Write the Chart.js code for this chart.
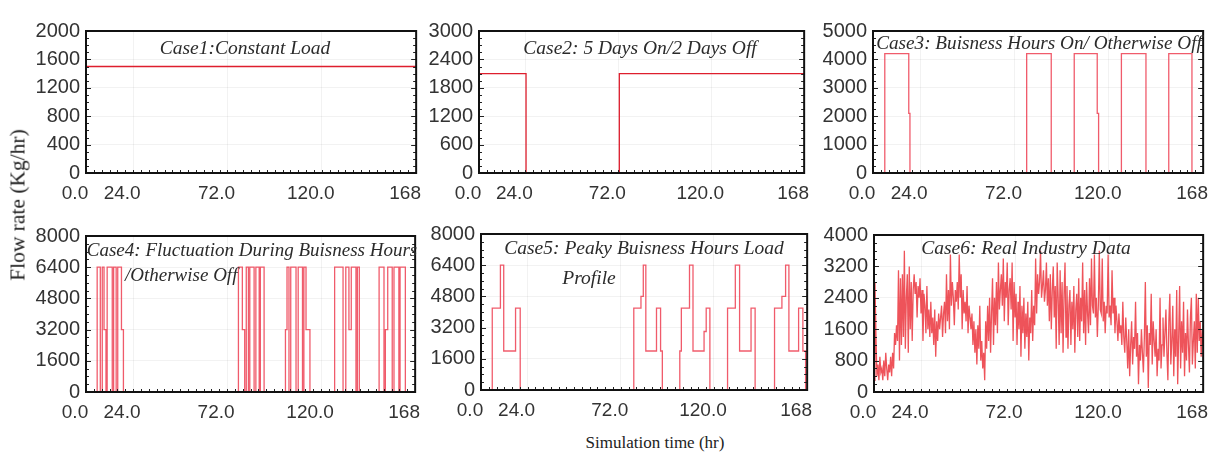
<!DOCTYPE html>
<html>
<head>
<meta charset="utf-8">
<script src="https://cdn.jsdelivr.net/npm/chart.js@4.4.0/dist/chart.umd.min.js"></script>
<style>
html, body { margin: 0; padding: 0; background: #fff; width: 1212px; height: 454px; overflow: hidden; position: relative; }
.panel { position: absolute; }
.label { position: absolute; font-family: "Liberation Serif", "Times New Roman", serif; color: #222; white-space: nowrap; }
#ylab { left: 18px; top: 205px; font-size: 21.5px; transform: translate(-50%, -50%) rotate(-90deg); }
#xlab { left: 655px; top: 443px; font-size: 17px; transform: translate(-50%, -50%); }
</style>
</head>
<body>
<div class="panel" id="p1"><canvas id="c1"></canvas></div>
<div class="panel" id="p2"><canvas id="c2"></canvas></div>
<div class="panel" id="p3"><canvas id="c3"></canvas></div>
<div class="panel" id="p4"><canvas id="c4"></canvas></div>
<div class="panel" id="p5"><canvas id="c5"></canvas></div>
<div class="panel" id="p6"><canvas id="c6"></canvas></div>
<div class="label" id="ylab">Flow rate (Kg/hr)</div>
<div class="label" id="xlab">Simulation time (hr)</div>
<script>
// x axis (hours)
const xTicks = [0, 24, 72, 120, 168];
const xTickLabels = ['0.0', '24.0', '72.0', '120.0', '168'];

// case 1: constant load
const c1Time = [0, 0, 168];
const c1Flow = [0, 1500, 1500];

// case 2: 5 days on / 2 days off
const c2Time = [0, 0, 24.3, 72.5, 168];
const c2Flow = [0, 2100, 0, 2100, 2100];

// case 3: business hours on
const c3Time = [0, 6, 18.2, 18.8, 78.2, 90.7, 102.4, 114.1, 114.8, 126.4, 138.9, 150.5, 162.3, 168];
const c3Flow = [0, 4200, 2100, 0, 4200, 0, 4200, 2100, 0, 4200, 0, 4200, 0, 0];

// case 4: fluctuation during business hours
const c4Time = [0,
  5.7, 7.3, 8.3, 9.2, 10.2, 10.8, 13.4, 14.1, 15.4, 16.2, 18.1, 19.1,
  77.8, 79.8, 81.0, 81.8, 82.9, 83.6, 85.8, 86.7, 88.4, 89.0, 90.9,
  101.8, 102.6, 103.6, 104.5, 107.2, 108.3, 110.5, 111.2, 112.3, 114.3,
  126.9, 131.2, 132.6, 134.2, 135.4, 137.8, 138.5, 139.5,
  149.6, 152.1, 152.8, 154.0, 156.3, 157.2, 159.7, 160.3, 163.0,
  168];
const c4Flow = [0,
  6400, 0, 6400, 3200, 0, 6400, 0, 6400, 0, 6400, 3200, 0,
  6400, 3200, 0, 6400, 0, 6400, 0, 6400, 0, 6400, 0,
  3200, 6400, 0, 6400, 0, 6400, 0, 6400, 3200, 0,
  6400, 0, 6400, 3200, 6400, 0, 6400, 0,
  6400, 0, 3200, 6400, 0, 6400, 0, 6400, 0,
  0];

// case 5: peaky business hours
const c5Time = [0,
  5.8, 10.0, 11.7, 17.8, 20.2,
  78.7, 82.4, 83.6, 84.9, 90.4, 92.5, 93.4,
  102.4, 103.2, 107.4, 109.2, 114.9, 116.0, 117.9,
  127.0, 131.0, 133.2, 139.1, 141.2,
  151.2, 155.0, 156.9, 158.6, 163.6, 165.8, 167.2,
  168];
const c5Flow = [0,
  4200, 6400, 2000, 4200, 0,
  4200, 4800, 6400, 2000, 4200, 2000, 0,
  2000, 4200, 6400, 2000, 3000, 4200, 0,
  4200, 6400, 2000, 4200, 0,
  4200, 4800, 6400, 2000, 4200, 2000, 0,
  0];

// case 6: real industry data, one reading every half hour
const c6Step = 0.5;
const c6Flow = [
  300, 2800, 1400, 400, 700, 300, 900, 500, 600, 300,
  800, 400, 1000, 600, 300, 700, 500, 900, 400, 1000,
  600, 1500, 1200, 1700, 1300, 3100, 800, 2900, 1200, 3000,
  1400, 3600, 1100, 2400, 3000, 1000, 3200, 1600, 2800, 1300,
  2600, 3000, 2500, 2800, 1900, 2700, 2400, 2900, 2000, 2600,
  1300, 2500, 2200, 1500, 2700, 1600, 2100, 1400, 2300, 1500,
  1900, 1200, 2100, 900, 1800, 1300, 2000, 1600, 1900, 2200,
  1400, 2000, 2300, 1500, 3000, 1800, 2600, 1600, 3500, 2200,
  2800, 2400, 1700, 2600, 2300, 2800, 2100, 3500, 2400, 3000,
  1600, 2600, 2000, 2300, 1800, 2700, 1500, 2200, 1900, 1600,
  2000, 1200, 1800, 1000, 1600, 700, 1700, 1100, 2200, 800,
  1300, 600, 1000, 300, 1800, 1100, 2200, 1300, 2400, 1000,
  2000, 2900, 1200, 2400, 1700, 2800, 1500, 3300, 2100, 2600,
  3000, 2200, 3400, 1800, 2800, 2400, 3300, 1700, 2600, 2900,
  2100, 3300, 1300, 2800, 1900, 2500, 1200, 2300, 1600, 2700,
  900, 2200, 1500, 2400, 1100, 2000, 1400, 2300, 800, 1900,
  1500, 2600, 1300, 2200, 1700, 3400, 2000, 3000, 2500, 2800,
  3600, 2400, 2700, 3100, 2300, 2600, 3300, 2200, 2900, 1800,
  3000, 1600, 2600, 3200, 1900, 2700, 1100, 3300, 2400, 1200,
  3100, 1500, 2800, 1000, 2500, 3300, 1400, 2700, 1100, 2200,
  2600, 1200, 2300, 1600, 2700, 1000, 2100, 2500, 1400, 2900,
  1300, 2400, 1800, 3300, 1500, 2600, 1200, 2800, 2000, 1500,
  2900, 1700, 3400, 2200, 2000, 3500, 1900, 2400, 1400, 2200,
  3600, 2100, 2000, 3400, 1800, 2300, 1500, 2200, 2000, 3500,
  1900, 2200, 1700, 3100, 2000, 2400, 1500, 2200, 1800, 1300,
  2000, 1500, 1700, 1200, 2300, 1400, 1000, 1900, 1300, 600,
  1600, 400, 1200, 1800, 700, 1400, 1100, 2300, 900, 1500,
  200, 1200, 800, 1600, 1000, 500, 1400, 2800, 900, 1700,
  100, 1500, 1200, 2500, 700, 1800, 1300, 900, 1600, 400,
  1100, 800, 2400, 600, 1200, 1900, 900, 1500, 2100, 1000,
  300, 1800, 2500, 700, 1300, 2200, 400, 1600, 900, 2600,
  200, 1400, 2700, 600, 1800, 1000, 2300, 400, 1500, 800,
  2100, 1200, 500, 1900, 2400, 700, 1300, 1800, 600, 2500,
  1000, 2400, 1300, 1800, 900, 1600, 1200
];

// frame, inner ticks and in-plot case title
const panelDecor = {
  id: 'panelDecor',
  afterDatasetsDraw(chart, args, opts) {
    const { ctx, chartArea: a, scales: { x, y } } = chart;
    ctx.save();
    ctx.strokeStyle = '#222';
    ctx.lineWidth = 1;
    ctx.beginPath();
    const minor = opts.yStep / 4;
    for (let i = 0; i * minor <= y.max + 1e-6; i++) {
      const py = Math.round(y.getPixelForValue(i * minor)) + 0.5;
      const len = i % 4 === 0 ? 5 : 3;
      ctx.moveTo(a.left, py); ctx.lineTo(a.left + len, py);
      ctx.moveTo(a.right, py); ctx.lineTo(a.right - len, py);
    }
    for (let h = 4; h < 168; h += 4) {
      const px = Math.round(x.getPixelForValue(h)) + 0.5;
      ctx.moveTo(px, a.bottom); ctx.lineTo(px, a.bottom - 3);
    }
    ctx.stroke();
    ctx.lineWidth = 2;
    ctx.strokeStyle = '#111';
    ctx.strokeRect(a.left, a.top, a.right - a.left, a.bottom - a.top);
    ctx.fillStyle = '#2b2b2b';
    ctx.textBaseline = 'middle';
    opts.lines.forEach(([text, dx, dy, align, size]) => {
      ctx.font = 'italic ' + (size || 19.5) + 'px "Liberation Serif", "Times New Roman", serif';
      ctx.textAlign = align || 'center';
      ctx.fillText(text, a.left + dx, a.top + dy);
    });
    ctx.restore();
  }
};

function makeChart(n, box, times, flows, yMax, yStep, lines, color, stepped) {
  const div = document.getElementById('p' + n);
  div.style.left = (box.L - 62) + 'px';
  div.style.top = (box.T - 12) + 'px';
  div.style.width = (box.R - box.L + 82) + 'px';
  div.style.height = (box.B - box.T + 44) + 'px';
  const fam = '"Liberation Sans", Arial, sans-serif';
  return new Chart(document.getElementById('c' + n), {
    type: 'line',
    data: {
      datasets: [{
        data: flows.map((v, i) => ({ x: times[i], y: v })),
        borderColor: color,
        borderWidth: 1.3,
        pointRadius: 0,
        stepped: stepped,
        tension: 0
      }]
    },
    options: {
      responsive: true,
      maintainAspectRatio: false,
      animation: false,
      layout: { padding: { top: 12, right: 20, left: 0, bottom: 0 } },
      plugins: {
        legend: { display: false },
        tooltip: { enabled: false },
        panelDecor: { yStep: yStep, lines: lines }
      },
      scales: {
        x: {
          type: 'linear', min: 0, max: 168,
          afterBuildTicks: s => { s.ticks = xTicks.map(v => ({ value: v })); },
          afterFit: s => { s.height = 32; },
          grid: { color: 'rgba(0,0,0,0.05)', drawTicks: false },
          border: { display: false },
          ticks: {
            font: { family: fam, size: 19 }, color: '#333', padding: 9, labelOffset: -11,
            maxRotation: 0, autoSkip: false,
            callback: v => xTickLabels[xTicks.indexOf(v)]
          }
        },
        y: {
          min: 0, max: yMax,
          afterFit: s => { s.width = 62; },
          grid: { color: 'rgba(0,0,0,0.05)', drawTicks: false },
          border: { display: false },
          ticks: {
            stepSize: yStep, font: { family: fam, size: 20 }, color: '#333', padding: 6,
            callback: v => String(v)
          }
        }
      }
    },
    plugins: [panelDecor]
  });
}

const red = 'rgb(222,30,45)';
const pink = 'rgba(236,50,70,0.8)';
const c6Time = c6Flow.map((v, i) => i * c6Step);

makeChart(1, { L: 86, R: 421, T: 25, B: 173 }, c1Time, c1Flow, 2000, 400,
  [['Case1:Constant Load', 159, 18]], red, true);
makeChart(2, { L: 479, R: 809, T: 25, B: 173 }, c2Time, c2Flow, 3000, 600,
  [['Case2: 5 Days On/2 Days Off', 161, 18]], red, true);
makeChart(3, { L: 873, R: 1208, T: 25, B: 173 }, c3Time, c3Flow, 5000, 1000,
  [['Case3: Buisness Hours On/ Otherwise Off', 166, 13, 'center', 19.2]], pink, true);
makeChart(4, { L: 86, R: 420, T: 230, B: 392 }, c4Time, c4Flow, 8000, 1600,
  [['Case4: Fluctuation During Buisness Hours', 166, 15, 'center', 19], ['/Otherwise Off', 39, 40, 'left', 19]], pink, true);
makeChart(5, { L: 481, R: 812, T: 228, B: 390 }, c5Time, c5Flow, 8000, 1600,
  [['Case5: Peaky Buisness Hours Load', 163, 15], ['Profile', 108, 45]], pink, true);
makeChart(6, { L: 874, R: 1208, T: 229, B: 392 }, c6Time, c6Flow, 4000, 800,
  [['Case6: Real Industry Data', 152, 14]], 'rgba(232,25,35,0.75)', false);
</script>
</body>
</html>
